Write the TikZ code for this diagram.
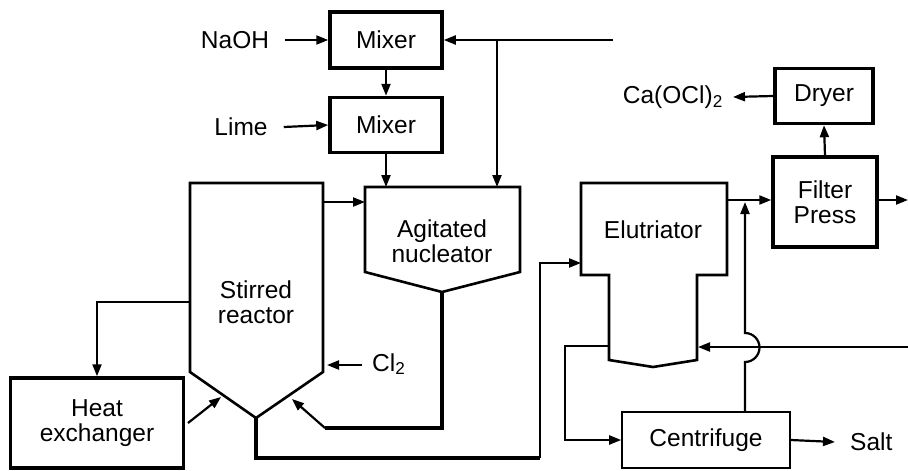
\documentclass[tikz,border=0pt]{standalone}
\usepackage{fontspec}
\setmainfont{Liberation Sans}
\usetikzlibrary{arrows.meta}
\begin{document}
\begin{tikzpicture}[x=1pt,y=-1pt,
  txt/.style={font=\fontsize{24.5}{27}\selectfont, inner sep=0pt},
  tbox/.style={draw, line width=3.5pt, font=\fontsize{24.5}{27}\selectfont, align=center, inner sep=0pt},
  thinbox/.style={draw, line width=1.6pt, font=\fontsize{24.5}{27}\selectfont, inner sep=0pt},
  vessel/.style={draw, line width=2.6pt, line join=miter},
  conn/.style={line width=2.2pt},
  heavy/.style={line width=3.6pt},
  arr/.style={line width=2.2pt, -{Triangle[length=12pt,width=9pt]}}
]
\useasboundingbox (0,0) rectangle (908,471);

% boxes
\node[tbox, minimum width=112pt, minimum height=56pt] (mix1) at (386,40) {Mixer};
\node[tbox, minimum width=112pt, minimum height=55pt] (mix2) at (386,125) {Mixer};
\node[tbox, minimum width=98pt, minimum height=55pt] (dryer) at (824,96) {Dryer};
\node[tbox, minimum width=104pt, minimum height=90pt] (fp) at (825,202) {Filter\\[-2pt]Press};
\node[tbox, minimum width=173pt, minimum height=90pt] (hx) at (97,423) {Heat\\[-2pt]exchanger};
\node[thinbox, minimum width=168pt, minimum height=56pt] (cent) at (706,440) {Centrifuge};

% labels
\node[txt] (naoh) at (235,40) {NaOH};
\node[txt] (lime) at (241,127) {Lime};
\node[txt, anchor=east] (caocl) at (723,97) {Ca(OCl)\textsubscript{2}};
\node[txt, anchor=west] (cl2) at (372,364) {Cl\textsubscript{2}};
\node[txt, anchor=west] (salt) at (850,442) {Salt};

% vessels
\coordinate (rTL) at (190,183); \coordinate (rTR) at (323,183);
\coordinate (rBR) at (323,372); \coordinate (rBot) at (256,418); \coordinate (rBL) at (190,372);
\draw[vessel] (rTL) -- (rTR) -- (rBR) -- (rBot) -- (rBL) -- cycle;
\node[txt, align=center] (reactor) at (256,302) {Stirred\\[-2pt]reactor};

\coordinate (nTL) at (365,187); \coordinate (nTR) at (520,187);
\coordinate (nBR) at (520,272); \coordinate (nBot) at (442,292); \coordinate (nBL) at (365,272);
\draw[vessel] (nTL) -- (nTR) -- (nBR) -- (nBot) -- (nBL) -- cycle;
\node[txt, align=center] (nuc) at (442,241) {Agitated\\[-2pt]nucleator};

\coordinate (eTL) at (581,183); \coordinate (eTR) at (727,183);
\coordinate (eSR) at (727,275); \coordinate (eIR) at (697,275);
\coordinate (eBR) at (697,360); \coordinate (eBot) at (653,367);
\coordinate (eBL) at (609,360); \coordinate (eIL) at (609,275); \coordinate (eSL) at (581,275);
\draw[vessel] (eTL) -- (eTR) -- (eSR) -- (eIR) -- (eBR) -- (eBot) -- (eBL) -- (eIL) -- (eSL) -- cycle;
\node[txt] (elu) at (653,230) {Elutriator};

% connectors
\draw[arr] ([xshift=16pt]naoh.east) -- (mix1.west);
\draw[arr] ([xshift=16pt]lime.east) -- (mix2.west);
\draw[arr] (mix1.south) -- (mix2.north);
\draw[arr] (mix2.south) -- (mix2.south |- nTL);

\coordinate (fbR) at (613,40);
\coordinate (fbJ) at (497,40);
\draw[conn] (fbR) -- (fbJ);
\draw[arr] (fbJ) -- (mix1.east);
\draw[arr] (fbJ) -- (fbJ |- nTL);

\draw[arr] (323,202) -- (365,202);

\coordinate (rOut) at (190,302);
\draw[arr] (rOut) -| (hx.north);

\coordinate (hxOut) at (188,423);
\coordinate (rIn1) at (221,397);
\draw[arr] (hxOut) -- (rIn1);

\coordinate (cl2tip) at (327,365);
\coordinate (cl2tail) at (362,365);
\draw[arr] (cl2tail) -- (cl2tip);

\coordinate (nRet) at (325,428);
\coordinate (rIn2) at (292,399);
\draw[heavy] (nBot) -- (nBot |- nRet) -- (nRet);
\draw[arr] (nRet) -- (rIn2);

\coordinate (rDown) at (256,458);
\coordinate (rTurn) at (540,458);
\coordinate (eIn) at (581,263);
\draw[heavy] (rBot) -- (rDown) -- (rTurn);
\draw[arr] (rTurn) |- (eIn);

\coordinate (eOut) at (727,200);
\draw[arr] (eOut) -- (eOut -| fp.west);
\draw[arr] (fp.north) -- (dryer.south);
\coordinate (caTip) at (733,97);
\draw[arr] (dryer.west) -- (caTip);
\coordinate (fpOut) at (908,200);
\draw[arr] (fp.east |- fpOut) -- (fpOut);

% recycle from right into elutriator
\coordinate (recR) at (908,347);
\coordinate (recL) at (698,347);
\draw[arr] (recR) -- (recL);

% centrifuge overhead with hop
\coordinate (cUp) at (745,412);
\coordinate (cTop) at (745,202);
\draw[arr] (cUp) -- (745,362) arc[start angle=90, end angle=-90, radius=14.5] -- (cTop);

% elutriator underflow to centrifuge
\coordinate (eUnder) at (609,346);
\draw[arr] (eUnder) -- (565,346) |- (cent.west);

\coordinate (saltTip) at (835,442);
\draw[arr] (cent.east) -- (saltTip);
\end{tikzpicture}
\end{document}
